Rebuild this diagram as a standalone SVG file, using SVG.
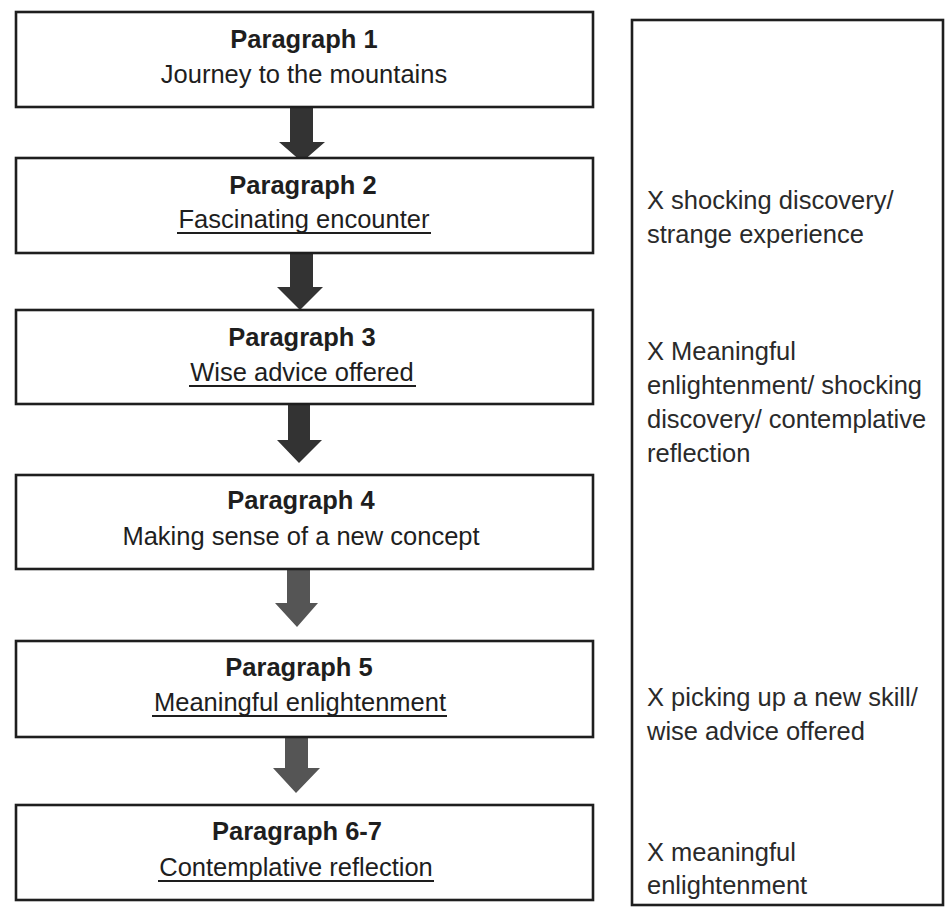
<svg xmlns="http://www.w3.org/2000/svg" width="946" height="908" viewBox="0 0 946 908">
<style>
.box{fill:#fff;stroke:#1e1e1e;stroke-width:2.6}
.panel{fill:none;stroke:#1e1e1e;stroke-width:2.6}
.h{font-family:"Liberation Sans",Arial,sans-serif;font-size:25.5px;font-weight:bold;fill:#1e1e1e;text-anchor:middle}
.t{font-family:"Liberation Sans",Arial,sans-serif;font-size:25.5px;fill:#1e1e1e;text-anchor:middle}
.r{font-family:"Liberation Sans",Arial,sans-serif;font-size:25.5px;fill:#2a2a2a}
.a1{fill:#333}
.a2{fill:#555}
.ul{stroke:#1e1e1e;stroke-width:2}
</style>
<rect width="946" height="908" fill="#fff"/>
<g id="connectors">
<path class="a1" d="M290,107 H313 V142 H325 L302,162 L279,142 H290 Z"/>
<path class="a1" d="M290,253 H313 V287 H323 L300,310 L277,287 H290 Z"/>
<path class="a1" d="M288,404 H310 V440 H322 L299,463 L277,440 H288 Z"/>
<path class="a2" d="M287,569 H310 V603 H318 L297,627 L275,603 H287 Z"/>
<path class="a2" d="M285,737 H308 V768 H320 L296,793 L273,768 H285 Z"/>
</g>
<g id="node1">
<rect class="box" x="16" y="12" width="577" height="95"/>
<text class="h" x="304" y="48">Paragraph 1</text>
<text class="t" x="304" y="83">Journey to the mountains</text>
</g>
<g id="node2">
<rect class="box" x="16" y="158" width="577" height="95"/>
<text class="h" x="303" y="194">Paragraph 2</text>
<text class="t" x="304" y="228">Fascinating encounter</text>
<line class="ul" x1="177" y1="233" x2="431" y2="233"/>
</g>
<g id="node3">
<rect class="box" x="16" y="310" width="577" height="94"/>
<text class="h" x="302" y="346">Paragraph 3</text>
<text class="t" x="302" y="381">Wise advice offered</text>
<line class="ul" x1="189" y1="386" x2="416" y2="386"/>
</g>
<g id="node4">
<rect class="box" x="16" y="475" width="577" height="94"/>
<text class="h" x="301" y="509">Paragraph 4</text>
<text class="t" x="301" y="545">Making sense of a new concept</text>
</g>
<g id="node5">
<rect class="box" x="16" y="641" width="577" height="96"/>
<text class="h" x="299" y="676">Paragraph 5</text>
<text class="t" x="300" y="711">Meaningful enlightenment</text>
<line class="ul" x1="152" y1="716" x2="447" y2="716"/>
</g>
<g id="node6">
<rect class="box" x="16" y="805" width="577" height="95"/>
<text class="h" x="297" y="840">Paragraph 6-7</text>
<text class="t" x="296" y="876">Contemplative reflection</text>
<line class="ul" x1="158" y1="881" x2="434" y2="881"/>
</g>
<g id="notes">
<rect class="panel" x="632" y="20" width="311" height="885"/>
<text class="r" x="647" y="209">X shocking discovery/</text>
<text class="r" x="647" y="243">strange experience</text>
<text class="r" x="647" y="360">X Meaningful</text>
<text class="r" x="647" y="394">enlightenment/ shocking</text>
<text class="r" x="647" y="428">discovery/ contemplative</text>
<text class="r" x="647" y="462">reflection</text>
<text class="r" x="647" y="706">X picking up a new skill/</text>
<text class="r" x="647" y="740">wise advice offered</text>
<text class="r" x="647" y="861">X meaningful</text>
<text class="r" x="647" y="894">enlightenment</text>
</g>
</svg>
